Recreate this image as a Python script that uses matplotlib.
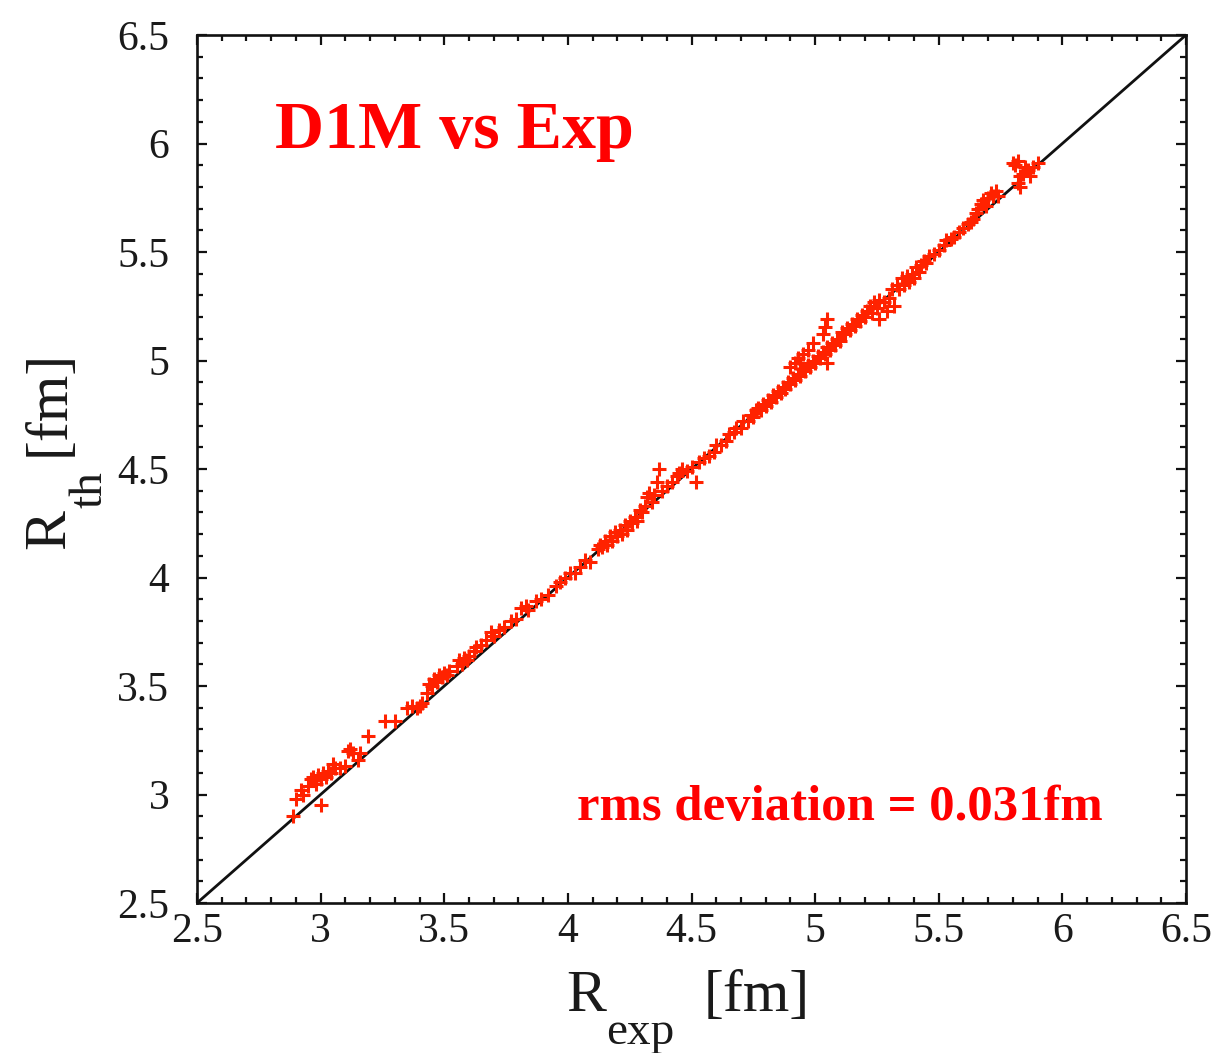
import matplotlib
matplotlib.use("Agg")
import matplotlib.pyplot as plt
from matplotlib.ticker import MultipleLocator, FuncFormatter

# Charge radii: experiment vs. D1M calculation (fm)
r_exp = [
    2.89, 2.90, 2.92, 2.93, 2.95, 2.96, 2.97, 2.98, 2.99, 3.00, 3.00, 3.01, 3.02, 3.03,
    3.04, 3.05, 3.06, 3.08, 3.10, 3.11, 3.12, 3.13, 3.15, 3.16, 3.19, 3.26, 3.30, 3.35,
    3.37, 3.39, 3.40, 3.41,
    3.43, 3.44, 3.45, 3.46, 3.47, 3.48, 3.49, 3.50, 3.51, 3.52, 3.55, 3.56, 3.57, 3.58,
    3.59, 3.60, 3.62, 3.63, 3.65, 3.67, 3.69, 3.70,
    3.72, 3.74, 3.77, 3.79, 3.81, 3.83, 3.84, 3.87, 3.89, 3.92, 3.95, 3.97, 3.99, 4.01,
    4.03, 4.05, 4.07, 4.09,
    4.12, 4.13, 4.14, 4.15, 4.16, 4.17, 4.18, 4.19, 4.20, 4.21, 4.22, 4.23, 4.24, 4.25,
    4.26, 4.27, 4.28, 4.29, 4.30, 4.31, 4.32, 4.33, 4.34, 4.35, 4.36, 4.37, 4.38, 4.40,
    4.42, 4.44, 4.45, 4.46, 4.48,
    4.50, 4.52, 4.53, 4.55, 4.57, 4.59, 4.60, 4.62, 4.64, 4.65, 4.67, 4.68, 4.70, 4.71,
    4.73, 4.74, 4.75, 4.76, 4.77, 4.78, 4.79, 4.80, 4.81, 4.82, 4.83, 4.84, 4.85, 4.86,
    4.87, 4.88, 4.89, 4.90, 4.91, 4.92,
    4.90, 4.92, 4.93, 4.95, 4.97, 4.99, 5.03, 5.04, 5.05, 4.94,
    4.93, 4.94, 4.95, 4.96, 4.97, 4.98, 4.99, 5.00, 5.01, 5.02, 5.03, 5.04, 5.05, 5.05,
    5.06, 5.07, 5.08, 5.09, 5.10, 5.11, 5.12, 5.13, 5.14, 5.15, 5.16, 5.17, 5.18, 5.19,
    5.20, 5.21, 5.22, 5.23, 5.24, 5.25, 5.26, 5.26, 5.28, 5.29, 5.30,
    5.31, 5.32, 5.33, 5.34, 5.35, 5.36, 5.37, 5.38, 5.39, 5.40, 5.41, 5.42, 5.43, 5.44,
    5.45, 5.46, 5.48, 5.50,
    5.52, 5.53, 5.55, 5.56, 5.58, 5.60, 5.62, 5.63, 5.64, 5.65, 5.66, 5.67, 5.68, 5.69,
    5.70, 5.71, 5.72, 5.73, 5.74, 5.80, 5.81, 5.82, 5.83, 5.82, 5.83, 5.84, 5.85, 5.87,
    5.88, 5.90, 5.86,
]
r_th = [
    2.90, 2.98, 3.02, 3.00, 3.04, 3.07, 3.08, 3.05, 3.09, 2.95, 3.07, 3.10, 3.08, 3.11,
    3.10, 3.14, 3.12, 3.12, 3.13, 3.20, 3.21, 3.19, 3.16, 3.19, 3.27, 3.34, 3.34, 3.40,
    3.41, 3.40, 3.41, 3.42,
    3.47, 3.51, 3.50, 3.53, 3.52, 3.55, 3.54, 3.56, 3.55, 3.57, 3.59, 3.62, 3.60, 3.63,
    3.62, 3.64, 3.66, 3.68, 3.69, 3.71, 3.75, 3.73,
    3.76, 3.77, 3.80, 3.81, 3.86, 3.87, 3.85, 3.89, 3.90, 3.92, 3.96, 3.98, 4.00, 4.02,
    4.02, 4.05, 4.08, 4.07,
    4.13, 4.15, 4.14, 4.17, 4.15, 4.19, 4.17, 4.21, 4.19, 4.22, 4.20, 4.24, 4.22, 4.26,
    4.25, 4.28, 4.26, 4.31, 4.30, 4.33, 4.37, 4.39, 4.35, 4.38, 4.44, 4.50, 4.40, 4.42,
    4.44, 4.47, 4.48, 4.50, 4.49,
    4.51, 4.44, 4.53, 4.55, 4.56, 4.58, 4.61, 4.61, 4.63, 4.66, 4.67, 4.69, 4.69, 4.72,
    4.72, 4.75, 4.74, 4.77, 4.78, 4.77, 4.80, 4.79, 4.82, 4.81, 4.84, 4.83, 4.86, 4.85,
    4.88, 4.87, 4.90, 4.89, 4.92, 4.91,
    4.97, 4.99, 5.01, 5.03, 5.05, 5.08, 5.12, 5.155, 5.19, 4.99,
    4.94, 4.93, 4.96, 4.95, 4.98, 4.97, 5.00, 4.99, 5.02, 5.01, 5.04, 5.03, 4.99, 5.06,
    5.05, 5.08, 5.07, 5.10, 5.09, 5.13, 5.12, 5.15, 5.14, 5.17, 5.16, 5.19, 5.18, 5.21,
    5.20, 5.23, 5.25, 5.22, 5.27, 5.24, 5.28, 5.19, 5.27, 5.23, 5.29,
    5.33, 5.25, 5.35, 5.33, 5.38, 5.35, 5.39, 5.36, 5.40, 5.38, 5.43, 5.41, 5.44, 5.46,
    5.45, 5.48, 5.49, 5.51,
    5.53, 5.555, 5.56, 5.57, 5.59, 5.61, 5.63, 5.64, 5.65, 5.68, 5.70, 5.72, 5.74, 5.71,
    5.75, 5.77, 5.76, 5.78, 5.76, 5.91, 5.90, 5.92, 5.85, 5.82, 5.80, 5.86, 5.89, 5.85,
    5.89, 5.91, 5.88,
]

x_ticks = [2.5, 3, 3.5, 4, 4.5, 5, 5.5, 6, 6.5]
title_text = "D1M vs Exp"
rms_text = "rms deviation = 0.031fm"

serif = "Liberation Serif"
plt.rcParams["font.family"] = serif

fig = plt.figure(figsize=(12.18, 10.53), dpi=100)
ax = fig.add_axes([197 / 1218, 1 - 903 / 1053, (1186 - 197) / 1218, (903 - 35) / 1053])

ax.axline((2.5, 2.5), slope=1, color="#111111", lw=2.0, zorder=1)
ax.plot(r_exp, r_th, linestyle="none", marker="+", markersize=10.5,
        markeredgewidth=2.2, color="#ff2200", zorder=2)

ax.set_xlim(x_ticks[0], x_ticks[-1])
ax.set_ylim(x_ticks[0], x_ticks[-1])
ax.set_xticks(x_ticks)
ax.set_yticks(x_ticks)
fmt = FuncFormatter(lambda v, p: f"{v:g}")
ax.xaxis.set_major_formatter(fmt)
ax.yaxis.set_major_formatter(fmt)
ax.xaxis.set_minor_locator(MultipleLocator(0.1))
ax.yaxis.set_minor_locator(MultipleLocator(0.1))
ax.tick_params(which="both", direction="in", top=True, right=True,
               width=1.6, color="#111111")
ax.tick_params(which="major", length=7.5, labelsize=30, labelcolor="#1a1a1a")
ax.tick_params(which="minor", length=4)
ax.tick_params(axis="x", which="major", pad=7)
ax.tick_params(axis="y", which="major", pad=20)
for s in ax.spines.values():
    s.set_linewidth(1.9)
    s.set_color("#111111")

ax.text(275 / 1218, 1 - 148 / 1053, title_text, transform=fig.transFigure,
        color="#ff0000", fontsize=49, fontweight="bold", va="baseline", ha="left")
ax.text(577 / 1218, 1 - 820 / 1053, rms_text, transform=fig.transFigure,
        color="#ff0000", fontsize=36.5, fontweight="bold", va="baseline", ha="left")

# Axis labels with dropped subscripts
lab_col = "#1a1a1a"
fig.text(566 / 1218, 1 - 1011 / 1053, "R", fontsize=43, color=lab_col,
         va="baseline", ha="left")
fig.text(606 / 1218, 1 - 1044 / 1053, "exp", fontsize=34, color=lab_col,
         va="baseline", ha="left")
fig.text(704 / 1218, 1 - 1011 / 1053, "[fm]", fontsize=43, color=lab_col,
         va="baseline", ha="left")

fig.text(64 / 1218, 1 - 549 / 1053, "R", fontsize=43, color=lab_col,
         va="baseline", ha="left", rotation=90, rotation_mode="anchor")
fig.text(102 / 1218, 1 - 508 / 1053, "th", fontsize=34, color=lab_col,
         va="baseline", ha="left", rotation=90, rotation_mode="anchor")
fig.text(64 / 1218, 1 - 456 / 1053, "[fm]", fontsize=43, color=lab_col,
         va="baseline", ha="left", rotation=90, rotation_mode="anchor")

fig.savefig("out.png", dpi=100, facecolor="white")
